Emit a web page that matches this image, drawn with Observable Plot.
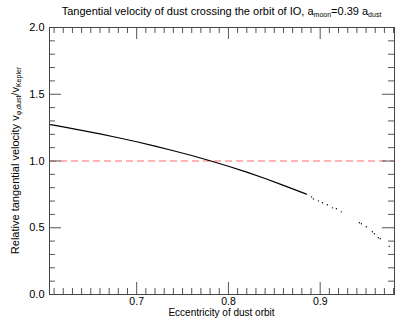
<!DOCTYPE html>
<html><head><meta charset="utf-8">
<script src="https://cdn.jsdelivr.net/npm/d3@7"></script>
<script src="https://cdn.jsdelivr.net/npm/@observablehq/plot@0.6"></script>
<style>body{margin:0;background:#fff} svg{display:block}</style>
</head><body><div id="chart"></div>
<script>
// Solid part of the curve (eccentricity, relative tangential velocity)
const solidE = [0.606, 0.62, 0.64, 0.66, 0.68, 0.70, 0.72, 0.74, 0.76, 0.78, 0.80, 0.82, 0.84, 0.86, 0.885];
const solidV = [1.273, 1.256, 1.230, 1.203, 1.174, 1.144, 1.111, 1.077, 1.041, 1.002, 0.961, 0.917, 0.869, 0.817, 0.752];
// Sparse sampled points at high eccentricity
const dotE = [0.8906, 0.8927, 0.8981, 0.9025, 0.9079, 0.9134, 0.9177, 0.9231, 0.9427, 0.9449, 0.9503, 0.9568, 0.9590, 0.9634, 0.9655, 0.9753];
const dotV = [0.731, 0.716, 0.701, 0.687, 0.672, 0.649, 0.642, 0.619, 0.537, 0.530, 0.507, 0.470, 0.455, 0.425, 0.418, 0.362];
const refLevel = [1.0];
const xMajor = [0.7, 0.8, 0.9];
const xMinor = [0.61,0.62,0.63,0.64,0.65,0.66,0.67,0.68,0.69,0.71,0.72,0.73,0.74,0.75,0.76,0.77,0.78,0.79,0.81,0.82,0.83,0.84,0.85,0.86,0.87,0.88,0.89,0.91,0.92,0.93,0.94,0.95,0.96,0.97,0.98];
const yMajor = [0.0, 0.5, 1.0, 1.5, 2.0];
const yMinor = [0.1,0.2,0.3,0.4,0.6,0.7,0.8,0.9,1.1,1.2,1.3,1.4,1.6,1.7,1.8,1.9];

const solid = solidE.map((e, i) => ({e, v: solidV[i]}));
const dots = dotE.map((e, i) => ({e, v: dotV[i]}));

const W = 397, H = 320, mt = 27, mb = 26, ml = 49, mr = 3;
const fh = H - mt - mb, fw = W - ml - mr;
const tickCol = "#555";
const FONT = "'Liberation Sans', Arial, Helvetica, sans-serif";

const chart = Plot.plot({
  width: W, height: H,
  marginTop: mt, marginBottom: mb, marginLeft: ml, marginRight: mr,
  style: {fontFamily: FONT, fontSize: "11px", background: "#fff", color: "#000"},
  x: {domain: [0.605, 0.981]},
  y: {domain: [0, 2]},
  marks: [
    Plot.ruleY(refLevel, {stroke: "#ff9c9c", strokeWidth: 1.5, strokeDasharray: "7,4"}),
    Plot.line(solid, {x: "e", y: "v", stroke: "#000", strokeWidth: 1.2}),
    Plot.dot(dots, {x: "e", y: "v", r: 0.7, fill: "#000", stroke: null}),
    // inward ticks on all four sides
    Plot.tickX(xMajor, {x: d => d, insetTop: fh - 12, stroke: tickCol}),
    Plot.tickX(xMajor, {x: d => d, insetBottom: fh - 12, stroke: tickCol}),
    Plot.tickX(xMinor, {x: d => d, insetTop: fh - 6, stroke: tickCol}),
    Plot.tickX(xMinor, {x: d => d, insetBottom: fh - 6, stroke: tickCol}),
    Plot.tickY(yMajor, {y: d => d, insetRight: fw - 12, stroke: tickCol}),
    Plot.tickY(yMajor, {y: d => d, insetLeft: fw - 12, stroke: tickCol}),
    Plot.tickY(yMinor, {y: d => d, insetRight: fw - 6, stroke: tickCol}),
    Plot.tickY(yMinor, {y: d => d, insetLeft: fw - 6, stroke: tickCol}),
    Plot.frame({stroke: "#444"}),
    Plot.axisX({ticks: xMajor, tickSize: 0, tickPadding: 3, tickFormat: d3.format(".1f"), label: null, fontSize: 10.5}),
    Plot.axisY({ticks: yMajor, tickSize: 0, tickPadding: 5, tickFormat: d3.format(".1f"), label: null, fontSize: 11})
  ]
});

const svg = d3.select(chart);
function addText(g, parts, sub) {
  parts.forEach(([t, isSub]) => {
    const ts = g.append("tspan").text(t);
    if (isSub) ts.attr("font-size", sub).attr("baseline-shift", "-25%");
  });
}
// Title
const title = svg.append("text")
  .attr("x", ml + fw / 2).attr("y", 15)
  .attr("text-anchor", "middle").attr("font-family", FONT).attr("font-size", 11).attr("fill", "#000");
addText(title, [["Tangential velocity of dust crossing the orbit of IO, a", false], ["moon", true], ["=0.39 a", false], ["dust", true]], 7);
// x label
svg.append("text")
  .attr("x", ml + fw / 2).attr("y", 316)
  .attr("text-anchor", "middle").attr("font-family", FONT).attr("font-size", 10).attr("fill", "#000")
  .text("Eccentricity of dust orbit");
// y label
const yl = svg.append("text")
  .attr("transform", `translate(19,${mt + fh / 2}) rotate(-90)`)
  .attr("text-anchor", "middle").attr("font-family", FONT).attr("font-size", 11).attr("fill", "#000");
addText(yl, [["Relative tangential velocity v", false], ["φ,dust", true], ["/v", false], ["Kepler", true]], 7);

document.getElementById("chart").appendChild(chart);
</script>
</body></html>
